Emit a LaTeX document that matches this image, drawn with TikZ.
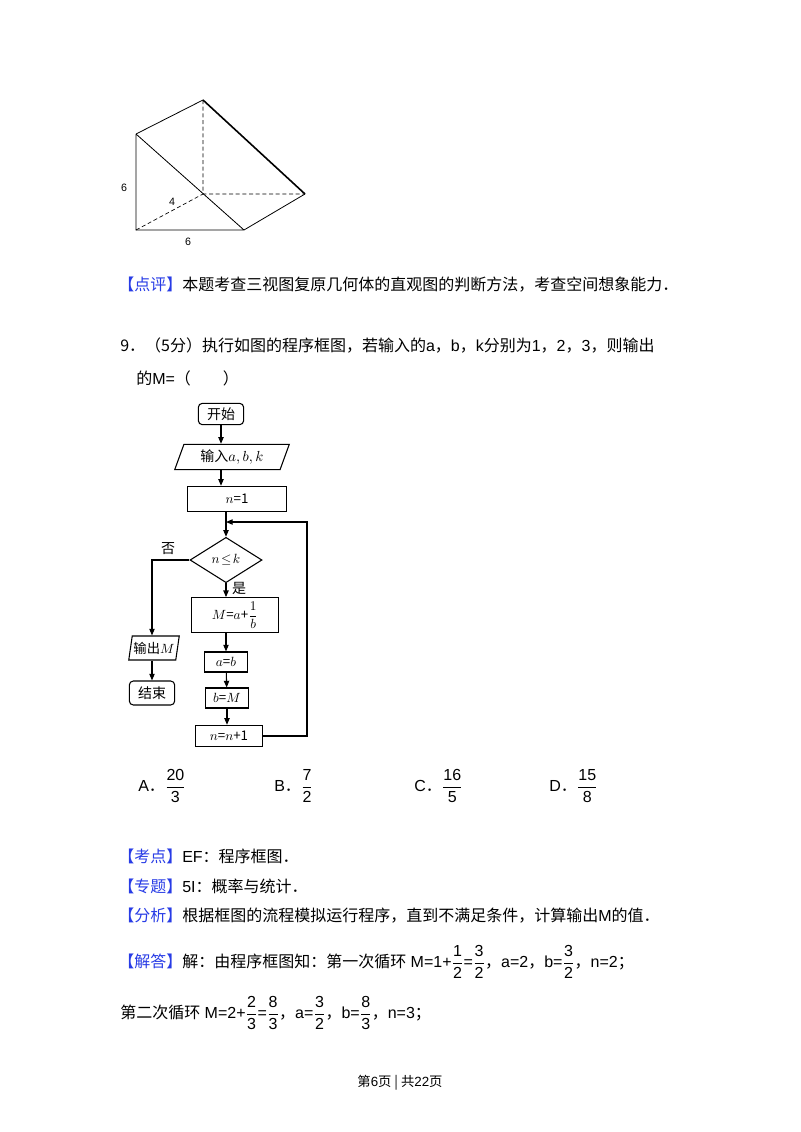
\documentclass[tikz,border=0pt]{standalone}
\usepackage{fontspec}
\setmainfont{Noto Sans CJK SC}
\newfontfamily\lat{Liberation Sans}
\usetikzlibrary{shapes.geometric,arrows.meta}
\definecolor{tagblue}{RGB}{40,60,230}
\usepackage{amsmath}
\newcommand{\fr}[2]{$\dfrac{\text{\lat #1}}{\text{\lat #2}}$}
\begin{document}
\begin{tikzpicture}[x=0.75pt,y=-0.75pt,
  txt/.style={anchor=west,inner sep=0,font=\fontsize{12}{14}\selectfont},
  box/.style={draw,thick,minimum height=0,inner sep=0},
  rbox/.style={draw,thick,rounded corners=3pt,inner sep=0},
  para/.style={draw,thick,trapezium,trapezium left angle=70,trapezium right angle=110,inner sep=1pt},
  fl/.style={-{Triangle[length=5pt,width=4pt]},thick},
  dsh/.style={densely dashed,line width=0.5pt}]
\useasboundingbox (0,0) rectangle (800,1132);
\fill[white] (0,0) rectangle (800,1132);
% prism
\coordinate (A) at (136,134); \coordinate (B) at (136,230); \coordinate (C) at (244,230);
\coordinate (D) at (203,100); \coordinate (E) at (203,194); \coordinate (F) at (305,194);
\draw[line width=0.6pt] (A)--(B)--(C)--(F) (A)--(D) (A)--(C);
\draw[line width=1.2pt] (D)--(F);
\draw[dsh] (D)--(E)--(F) (B)--(E);
\node[font=\lat\fontsize{8}{9}\selectfont] (l6a) at (124,188) {6};
\node[font=\lat\fontsize{8}{9}\selectfont] (l4) at (172,202) {4};
\node[font=\lat\fontsize{8}{9}\selectfont] (l6b) at (188,242) {6};
% texts
\node[txt] (dp) at (118,285) {{\color{tagblue}【点评】}本题考查三视图复原几何体的直观图的判断方法，考查空间想象能力．};
\node[txt] (q9) at (120,346) {9．（5分）执行如图的程序框图，若输入的{\lat a}，{\lat b}，{\lat k}分别为{\lat 1}，{\lat 2}，{\lat 3}，则输出};
\node[txt] (q9b) at (136,378) {的{\lat M=}（　　）};
% flowchart
\node[rbox,minimum width=34pt,minimum height=16pt] (st) at (221,414) {\fontsize{10.5}{12}\selectfont 开始};
\node[para,minimum width=74pt,minimum height=19pt] (in) at (232,457) {\fontsize{10.5}{12}\selectfont 输入$a,b,k$};
\node[box,minimum width=74pt,minimum height=19pt] (n1) at (237,499) {$n$=1};
\coordinate (J) at (226,522);
\node[draw,thick,diamond,aspect=1.55,minimum width=54pt,minimum height=34pt,inner sep=0] (dia) at (226,560) {$n\!\leq\! k$};
\node[box,minimum width=65pt,minimum height=26pt] (m) at (235,615) {$M$=$a$+$\dfrac{1}{b}$};
\node[box,minimum width=32pt,minimum height=15pt] (ab) at (226,662) {$a$=$b$};
\node[box,minimum width=32pt,minimum height=15pt] (bm) at (227,698) {$b$=$M$};
\node[box,minimum width=50pt,minimum height=16pt] (nn) at (229,736) {$n$=$n$+1};
\node[draw,thick,trapezium,trapezium left angle=75,trapezium right angle=105,inner sep=0,minimum height=18pt,trapezium stretches=true,minimum width=38pt] (out) at (154,648) {\fontsize{10}{12}\selectfont 输出$M$};
\node[rbox,minimum width=34pt,minimum height=18pt] (end) at (152,693) {\fontsize{10.5}{12}\selectfont 结束};
\node[font=\fontsize{10.5}{12}\selectfont] (no) at (168,549) {否};
\node[font=\fontsize{10.5}{12}\selectfont] (yes) at (239,588) {是};
\draw[fl] (st.south)--(st.south |- in.north);
\draw[fl] (in.south -| st)--(n1.north -| st);
\draw[thick] (n1.south -| J)--(J);
\draw[fl] (J)--(dia.north);
\draw[fl] (dia.south)--(dia.south |- m.north);
\draw[fl] (m.south -| ab)--(ab.north);
\draw[fl] (ab)--(bm);
\draw[fl] (bm)--(nn.north -| bm);
\draw[thick] (dia.west)-|(152,600);
\draw[fl] (152,600)--(out.north -| 152,0);
\draw[fl] (out.south -| end)--(end);
\draw[fl] (nn.east)-|(307,522)--(J);
% options
\node[txt] (oa) at (138,786) {{\lat A}．\fr{20}{3}};
\node[txt] (ob) at (274,786) {{\lat B}．\fr{7}{2}};
\node[txt] (oc) at (414,786) {{\lat C}．\fr{16}{5}};
\node[txt] (od) at (549,786) {{\lat D}．\fr{15}{8}};
\node[txt] (kd) at (118,856) {{\color{tagblue}【考点】}{\lat EF}：程序框图．};
\node[txt] (zt) at (118,886) {{\color{tagblue}【专题】}{\lat 5I}：概率与统计．};
\node[txt] (fx) at (118,916) {{\color{tagblue}【分析】}根据框图的流程模拟运行程序，直到不满足条件，计算输出{\lat M}的值．};
\node[txt] (jd) at (118,962) {{\color{tagblue}【解答】}解：由程序框图知：第一次循环{\lat ~M=1+}\fr12{\lat =}\fr32，{\lat a=2}，{\lat b=}\fr32，{\lat n=2}；};
\node[txt] (d2) at (120,1013) {第二次循环{\lat ~M=2+}\fr23{\lat =}\fr83，{\lat a=}\fr32，{\lat b=}\fr83，{\lat n=3}；};
\node[font=\fontsize{10}{12}\selectfont] (ft) at (400,1083) {第{\lat 6}页 | 共{\lat 22}页};
\end{tikzpicture}
\end{document}
